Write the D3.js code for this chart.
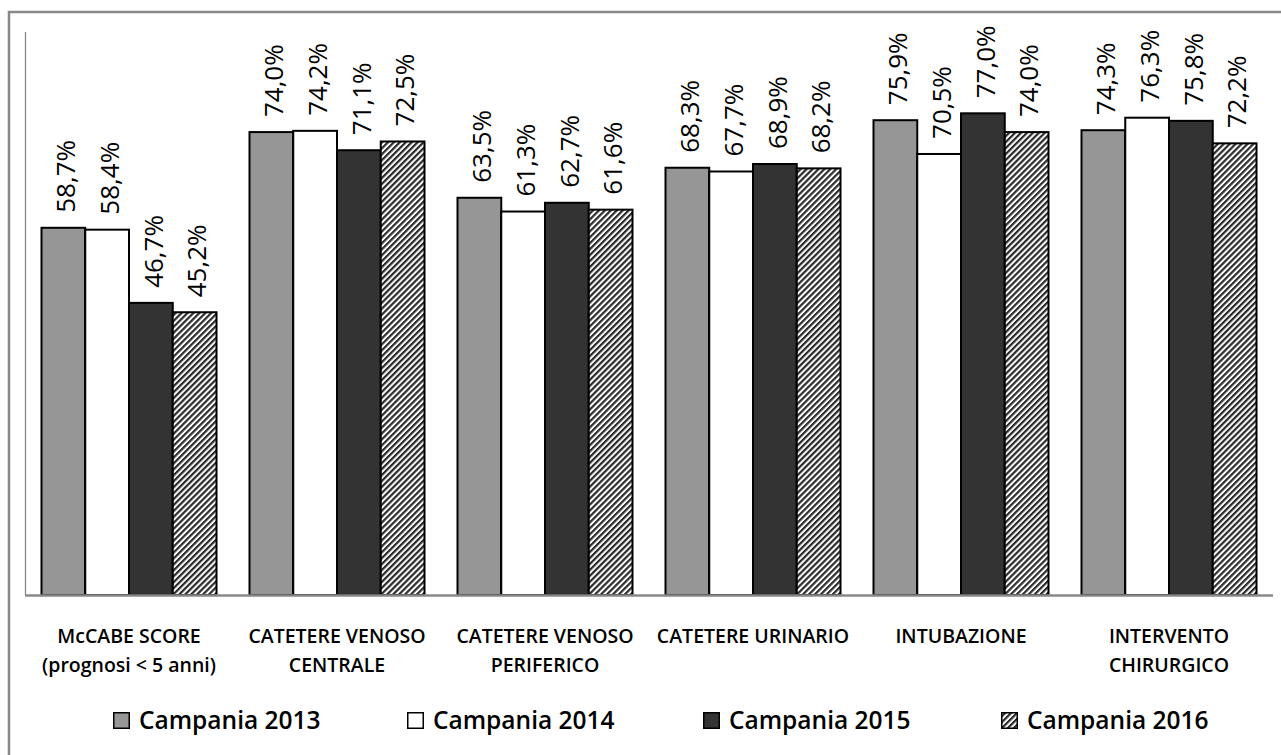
<!DOCTYPE html>
<html><head><meta charset="utf-8">
<script src="https://cdn.jsdelivr.net/npm/d3@7"></script>
<style>html,body{margin:0;padding:0;background:#fff;overflow:hidden}</style>
</head><body>
<svg id="c" width="1281" height="755"></svg>
<script>
const categories = [
  ["McCABE SCORE","(prognosi < 5 anni)"],
  ["CATETERE VENOSO","CENTRALE"],
  ["CATETERE VENOSO","PERIFERICO"],
  ["CATETERE URINARIO"],
  ["INTUBAZIONE"],
  ["INTERVENTO","CHIRURGICO"]
];
const seriesNames = ["Campania 2013","Campania 2014","Campania 2015","Campania 2016"];
const v2013 = [58.7, 74.0, 63.5, 68.3, 75.9, 74.3];
const v2014 = [58.4, 74.2, 61.3, 67.7, 70.5, 76.3];
const v2015 = [46.7, 71.1, 62.7, 68.9, 77.0, 75.8];
const v2016 = [45.2, 72.5, 61.6, 68.2, 74.0, 72.2];
const seriesValues = [v2013, v2014, v2015, v2016];
const yMax = 90;

const fills = ["#969696", "#ffffff", "#333333", "url(#hatch)"];
const svg = d3.select("#c");
const defs = svg.append("defs");
const pat = defs.append("pattern").attr("id","hatch").attr("patternUnits","userSpaceOnUse")
  .attr("width",4.2).attr("height",4.2).attr("patternTransform","rotate(45)");
pat.append("rect").attr("width",4.2).attr("height",4.2).attr("fill","#fff");
pat.append("line").attr("x1",1.1).attr("x2",1.1).attr("y1",0).attr("y2",4.2)
  .attr("stroke","#2a2a2a").attr("stroke-width",2.2);

// outer border (extends beyond the canvas on right/bottom)
svg.append("path").attr("d","M9,760 L9,12 L1290,12").attr("fill","none")
  .attr("stroke","#888").attr("stroke-width",2.5);

const x0 = d3.scaleBand().domain(d3.range(categories.length)).range([25,1273])
  .paddingInner(33/208).paddingOuter(33/416);
const x1 = d3.scaleBand().domain(d3.range(seriesNames.length)).range([0, x0.bandwidth()]);
const y = d3.scaleLinear().domain([0,yMax]).range([595,32]);

// left plot line
svg.append("line").attr("x1",25.5).attr("x2",25.5).attr("y1",y(yMax)).attr("y2",y(0))
  .attr("stroke","#888").attr("stroke-width",1.3);

const fmt = v => d3.format(".1f")(v).replace(".",",") + "%";

const g = svg.append("g");
categories.forEach((c,i)=>{
  seriesValues.forEach((vals,s)=>{
    const v = vals[i];
    const bx = x0(i) + x1(s);
    g.append("rect").attr("x",bx).attr("y",y(v)).attr("width",x1.bandwidth())
      .attr("height",y(0)-y(v)).attr("fill",fills[s])
      .attr("stroke","#000").attr("stroke-width",2);
  });
});
categories.forEach((c,i)=>{
  seriesValues.forEach((vals,s)=>{
    const v = vals[i];
    const cx = x0(i) + x1(s) + x1.bandwidth()/2;
    const ty = y(v) - 15;
    svg.append("text").attr("transform",`translate(${cx},${ty}) rotate(-90)`)
      .attr("dy","0.45em").attr("text-anchor","start")
      .attr("font-family","'Open Sans', sans-serif").attr("font-size",26).attr("font-weight",500)
      .attr("fill","#000").text(fmt(v));
  });
});

// x axis line
svg.append("line").attr("x1",25).attr("x2",1273).attr("y1",y(0)+0.5).attr("y2",y(0)+0.5)
  .attr("stroke","#888").attr("stroke-width",2.5);

// category labels
categories.forEach((c,i)=>{
  const cx = x0(i) + x0.bandwidth()/2;
  c.forEach((line,k)=>{
    svg.append("text").attr("x",cx).attr("y",643 + k*29).attr("text-anchor","middle")
      .attr("font-family","'Open Sans', sans-serif").attr("font-size",19.5).attr("font-weight",600)
      .attr("fill","#000").text(line);
  });
});

// legend
const legX = [113, 407, 703, 1001];
seriesNames.forEach((n,s)=>{
  svg.append("rect").attr("x",legX[s]+0.75).attr("y",712.75).attr("width",15.5).attr("height",15.5)
    .attr("fill",fills[s]).attr("stroke","#000").attr("stroke-width",1.5);
  svg.append("text").attr("x",legX[s]+26).attr("y",729)
    .attr("font-family","'Open Sans', sans-serif").attr("font-size",24.5).attr("font-weight",600)
    .attr("fill","#000").text(n);
});
</script>
</body></html>
